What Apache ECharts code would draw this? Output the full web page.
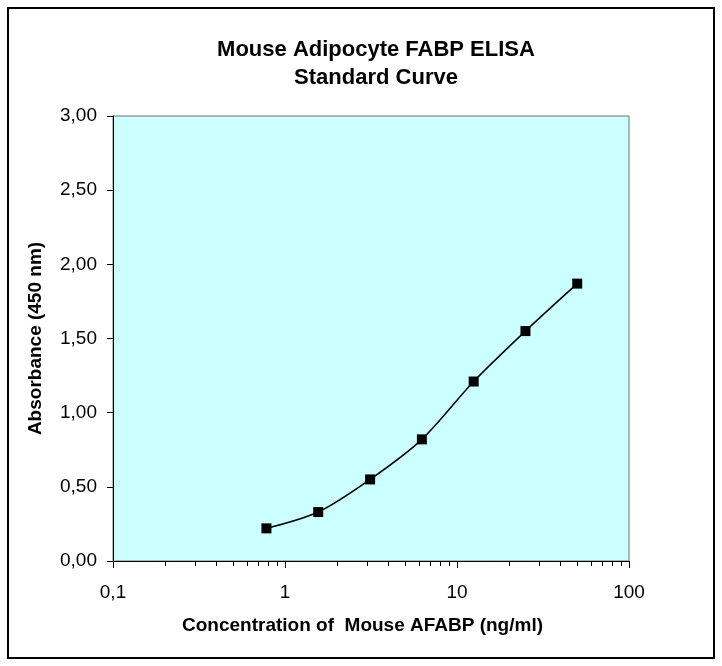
<!DOCTYPE html>
<html>
<head>
<meta charset="utf-8">
<script src="https://cdn.jsdelivr.net/npm/echarts@6/dist/echarts.min.js"></script>
<style>
  html, body { margin: 0; padding: 0; background: #ffffff; }
  #chart { width: 722px; height: 666px; }
</style>
</head>
<body>
<div id="chart"></div>
<script>
// ---- Data ----
const concentrations = [0.78, 1.56, 3.125, 6.25, 12.5, 25, 50];
const absorbance = [0.22, 0.33, 0.55, 0.82, 1.21, 1.55, 1.87];
const xMajorTicks = [0.1, 1, 10, 100];
const xMinorTicks = [0.2, 0.3, 0.4, 0.5, 0.6, 0.7, 0.8, 0.9,
                     2, 3, 4, 5, 6, 7, 8, 9,
                     20, 30, 40, 50, 60, 70, 80, 90];
const yTicks = [0, 0.5, 1, 1.5, 2, 2.5, 3];

const chartTitle = 'Mouse Adipocyte FABP ELISA\nStandard Curve';
const xTitle = 'Concentration of  Mouse AFABP (ng/ml)';
const yTitle = 'Absorbance (450 nm)';

const FONT = '"Liberation Sans", Arial, sans-serif';

const chart = echarts.init(document.getElementById('chart'), null, { renderer: 'canvas' });

const fmtX = v => String(v).replace('.', ',');
const fmtY = v => Number(v).toFixed(2).replace('.', ',');

chart.setOption({
  animation: false,
  backgroundColor: '#ffffff',
  title: {
    text: chartTitle,
    left: 371,
    top: 31,
    textAlign: 'center',
    textStyle: { fontFamily: FONT, fontSize: 22, fontWeight: 'bold', color: '#000', lineHeight: 28 }
  },
  graphic: [{
    type: 'rect',
    shape: { x: 8, y: 8, width: 706, height: 650 },
    style: { fill: 'none', stroke: '#000', lineWidth: 2 },
    silent: true,
    z: 100
  }],
  grid: {
    left: 113, top: 116, width: 516, height: 445,
    show: true,
    backgroundColor: '#CCFFFF',
    borderColor: '#707070',
    borderWidth: 1
  },
  xAxis: [{
    type: 'log',
    logBase: 10,
    min: 0.1, max: 100,
    position: 'bottom',
    name: xTitle,
    nameLocation: 'middle',
    nameGap: 55,
    nameTextStyle: { fontFamily: FONT, fontSize: 19, fontWeight: 'bold', color: '#000', padding: [0, 17, 0, 0] },
    axisLine: { show: true, lineStyle: { color: '#000', width: 1 } },
    axisTick: { show: true, inside: false, length: 7, customValues: xMajorTicks, lineStyle: { color: '#000' } },
    axisLabel: { show: true, margin: 22, customValues: xMajorTicks, formatter: fmtX,
                 fontFamily: FONT, fontSize: 19, color: '#000' },
    splitLine: { show: false }
  }, {
    type: 'log',
    logBase: 10,
    min: 0.1, max: 100,
    position: 'bottom',
    gridIndex: 0,
    axisLine: { show: false },
    axisTick: { show: true, inside: false, length: 5, customValues: xMinorTicks, lineStyle: { color: '#000' } },
    axisLabel: { show: false },
    splitLine: { show: false }
  }],
  yAxis: {
    type: 'value',
    min: 0, max: 3, interval: 0.5,
    name: yTitle,
    nameLocation: 'middle',
    nameGap: 68,
    nameTextStyle: { fontFamily: FONT, fontSize: 19, fontWeight: 'bold', color: '#000' },
    axisLine: { show: true, lineStyle: { color: '#000', width: 1 } },
    axisTick: { show: true, inside: false, length: 6, lineStyle: { color: '#000' } },
    axisLabel: { margin: 16, formatter: fmtY, fontFamily: FONT, fontSize: 19, color: '#000' },
    splitLine: { show: false }
  },
  series: [{
    type: 'line',
    xAxisIndex: 0,
    yAxisIndex: 0,
    data: concentrations.map((c, i) => [c, absorbance[i]]),
    smooth: 0.3,
    symbol: 'rect',
    symbolSize: 10,
    itemStyle: { color: '#000' },
    lineStyle: { color: '#000', width: 1.5 }
  }]
});
</script>
</body>
</html>
